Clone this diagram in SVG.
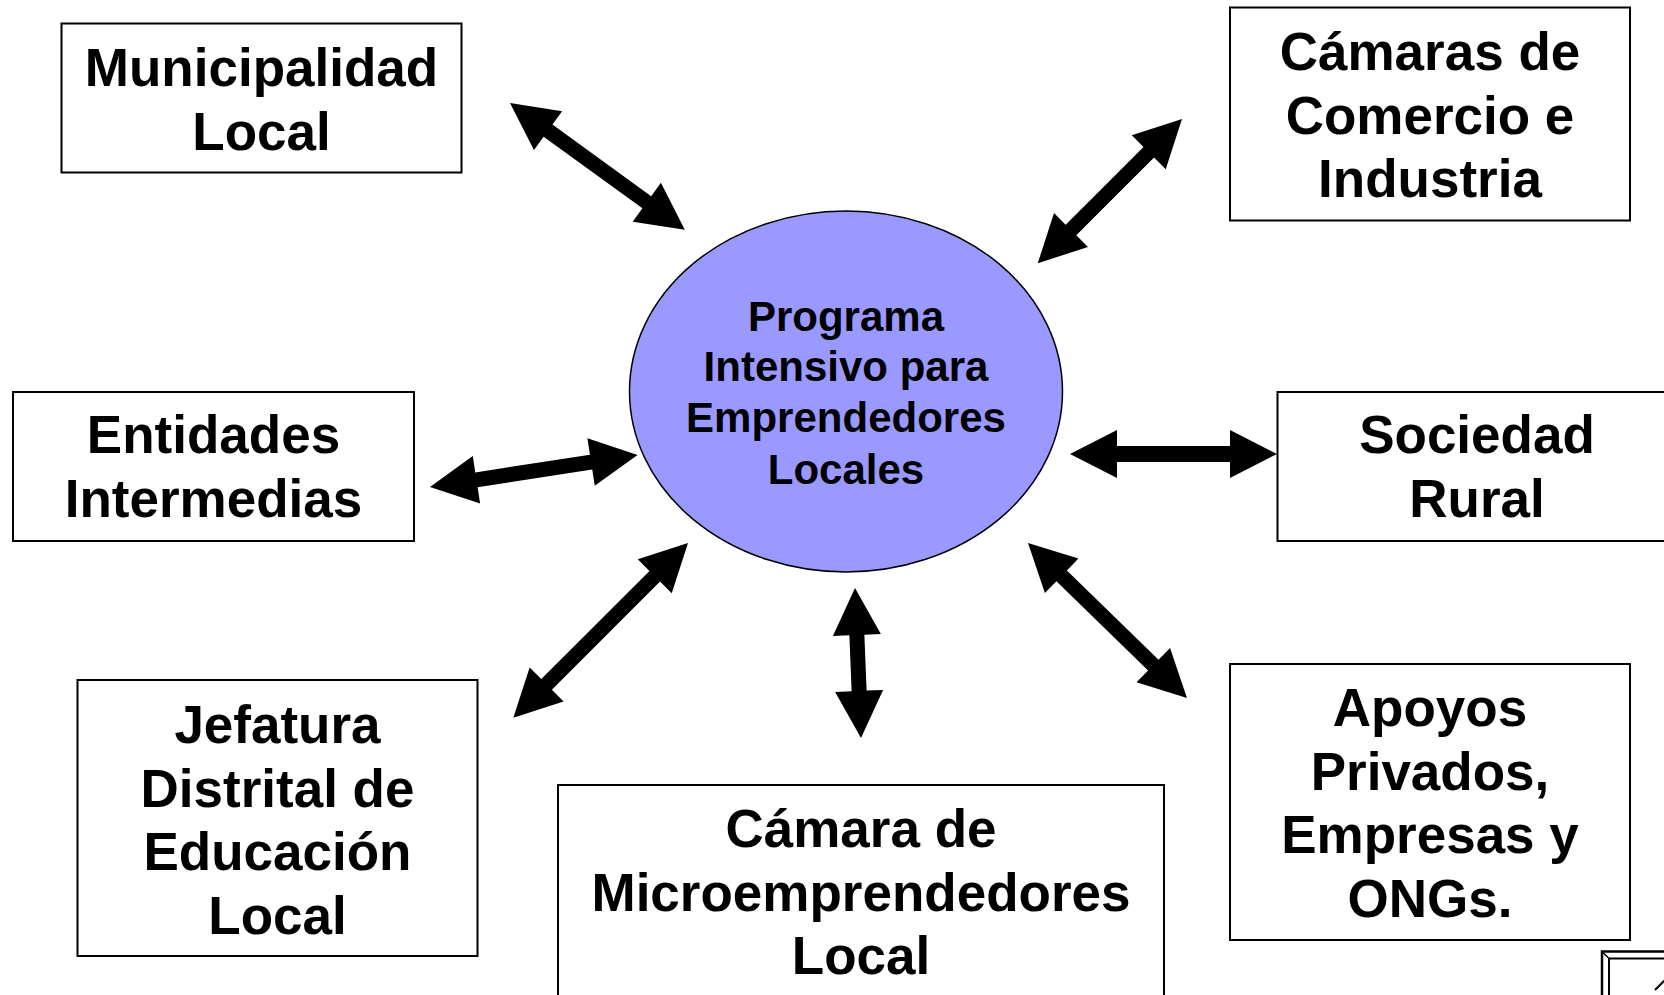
<svg xmlns="http://www.w3.org/2000/svg" width="1664" height="995" viewBox="0 0 1664 995">
<style>
.box{fill:#fff;stroke:#000;stroke-width:2}
.t{font-family:"Liberation Sans",Arial,sans-serif;font-weight:bold;font-size:53px;fill:#000;text-anchor:middle}
.tc{font-family:"Liberation Sans",Arial,sans-serif;font-weight:bold;font-size:42px;fill:#000;text-anchor:middle}
.arr{fill:#000;stroke:none}
</style>
<rect x="0" y="0" width="1664" height="995" fill="#fff"/>
<g id="connectors">
<polygon class="arr" transform="translate(510,103) rotate(35.96)" points="0,0 47,-24 47,-7.5 169,-7.5 169,-24 216,0 169,24 169,7.5 47,7.5 47,24"/>
<polygon class="arr" transform="translate(1182,119) rotate(135)" points="0,0 47,-24 47,-7.5 157,-7.5 157,-24 204,0 157,24 157,7.5 47,7.5 47,24"/>
<polygon class="arr" transform="translate(430,487) rotate(-8.79)" points="0,0 47,-24 47,-7.5 163,-7.5 163,-24 210,0 163,24 163,7.5 47,7.5 47,24"/>
<polygon class="arr" transform="translate(1070,454)" points="0,0 47,-24 47,-8 160,-8 160,-24 207,0 160,24 160,8 47,8 47,24"/>
<polygon class="arr" transform="translate(688,543) rotate(135)" points="0,0 47,-24 47,-7.5 200,-7.5 200,-24 247,0 200,24 200,7.5 47,7.5 47,24"/>
<polygon class="arr" transform="translate(855,588) rotate(87.71)" points="0,0 47,-24 47,-7.5 103,-7.5 103,-24 150,0 103,24 103,7.5 47,7.5 47,24"/>
<polygon class="arr" transform="translate(1028,543) rotate(44.27)" points="0,0 47,-24 47,-7.5 175,-7.5 175,-24 222,0 175,24 175,7.5 47,7.5 47,24"/>
</g>
<g id="center">
<ellipse cx="846" cy="391.5" rx="216.5" ry="180.5" fill="#9999FF" stroke="#000" stroke-width="1.5"/>
<text class="tc" x="846" y="331">Programa</text>
<text class="tc" x="846" y="381">Intensivo para</text>
<text class="tc" x="846" y="432">Emprendedores</text>
<text class="tc" x="846" y="484">Locales</text>
</g>
<g id="municipalidad">
<rect class="box" x="61.5" y="23.5" width="400" height="149"/>
<text class="t" x="261.5" y="86">Municipalidad</text>
<text class="t" x="261.5" y="150">Local</text>
</g>
<g id="camaras">
<rect class="box" x="1230" y="7.5" width="400" height="213"/>
<text class="t" x="1430" y="70">Cámaras de</text>
<text class="t" x="1430" y="134">Comercio e</text>
<text class="t" x="1430" y="197">Industria</text>
</g>
<g id="entidades">
<rect class="box" x="13" y="392" width="401" height="149"/>
<text class="t" x="213.5" y="453">Entidades</text>
<text class="t" x="213.5" y="517">Intermedias</text>
</g>
<g id="sociedad">
<rect class="box" x="1277.5" y="392" width="400" height="149"/>
<text class="t" x="1477" y="453">Sociedad</text>
<text class="t" x="1477" y="517">Rural</text>
</g>
<g id="jefatura">
<rect class="box" x="77.5" y="680" width="400" height="276"/>
<text class="t" x="277.5" y="743">Jefatura</text>
<text class="t" x="277.5" y="807">Distrital de</text>
<text class="t" x="277.5" y="870">Educación</text>
<text class="t" x="277.5" y="934">Local</text>
</g>
<g id="microemprendedores">
<rect class="box" x="558" y="785" width="606" height="230"/>
<text class="t" x="861" y="847">Cámara de</text>
<text class="t" x="861" y="911">Microemprendedores</text>
<text class="t" x="861" y="974">Local</text>
</g>
<g id="apoyos">
<rect class="box" x="1230" y="664" width="400" height="276"/>
<text class="t" x="1430" y="726">Apoyos</text>
<text class="t" x="1430" y="790">Privados,</text>
<text class="t" x="1430" y="853">Empresas y</text>
<text class="t" x="1430" y="917">ONGs.</text>
</g>
<g id="corner-icon" fill="none" stroke="#000">
<path d="M1602,1000 V951.5 H1670" stroke-width="2.5"/>
<path d="M1609,1000 V958.5 H1670" stroke-width="2"/>
<path d="M1602,951.5 L1609,958.5" stroke-width="1.5"/>
<path d="M1655,990 L1666,979" stroke-width="2"/>
</g>
</svg>
